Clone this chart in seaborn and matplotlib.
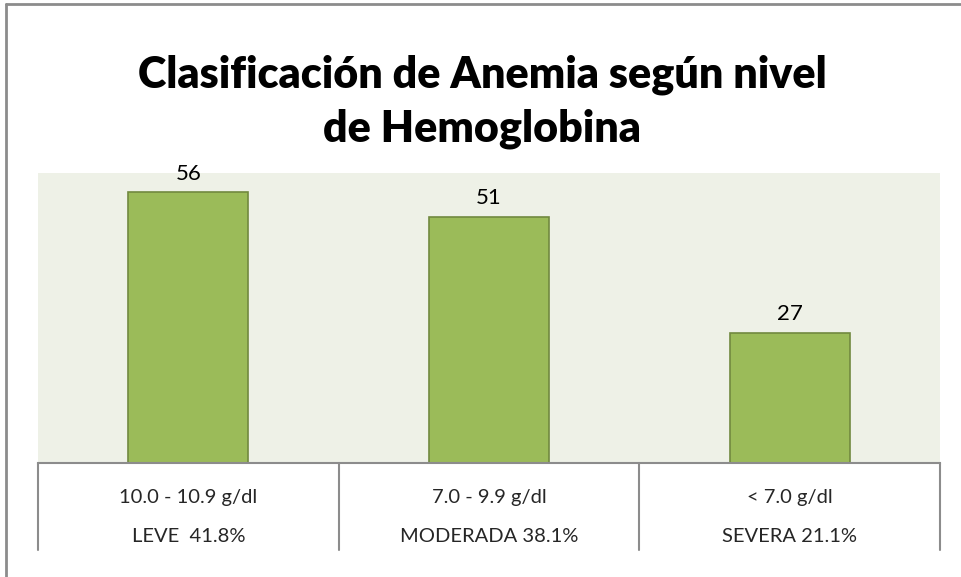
import matplotlib
matplotlib.use('Agg')
import matplotlib.pyplot as plt
from matplotlib.lines import Line2D
import seaborn as sns
import pandas as pd

# Data
categorias = ['10.0 - 10.9 g/dl', '7.0 - 9.9 g/dl', '< 7.0 g/dl']
niveles = ['LEVE  41.8%', 'MODERADA 38.1%', 'SEVERA 21.1%']
casos = [56, 51, 27]

df = pd.DataFrame({'categoria': categorias, 'casos': casos})

sns.set_style('white')
plt.rcParams['font.family'] = ['Lato', 'DejaVu Sans']

W, H = 961, 577
fig = plt.figure(figsize=(W / 100, H / 100), dpi=100)

# plot area in pixel coords: x 38..940, y 173..463
left, right, top, bottom = 38, 940, 173, 463
ax = fig.add_axes([left / W, 1 - bottom / H, (right - left) / W, (bottom - top) / H])
ax.set_facecolor('#EEF1E7')

sns.barplot(data=df, x='categoria', y='casos', color='#9BBB59', width=0.4,
            edgecolor='#71893F', linewidth=1.2, saturation=1, ax=ax)

ax.set_ylim(0, 60)
ax.set_xlim(-0.5, 2.5)
ax.set_xlabel('')
ax.set_ylabel('')
ax.set_xticks([])
ax.set_yticks([])
for s in ['top', 'right', 'left']:
    ax.spines[s].set_visible(False)
ax.spines['bottom'].set_color('#8C8C8C')
ax.spines['bottom'].set_linewidth(1.5)

# value labels
for i, v in enumerate(casos):
    ax.annotate(str(v), (i, v), xytext=(0, 6), textcoords='offset points',
                ha='center', va='bottom', fontsize=16, color='#000000')

# data table below the axis
tr = ax.get_xaxis_transform()
tabla_h = (550 - bottom) / (bottom - top)
for xb in [-0.5, 0.5, 1.5, 2.5]:
    ax.plot([xb, xb], [0, -tabla_h], transform=tr, color='#8C8C8C', lw=1.5,
            clip_on=False)
fila1 = -(497 - bottom) / (bottom - top)
fila2 = -(536 - bottom) / (bottom - top)
for i in range(len(categorias)):
    ax.text(i, fila1, categorias[i], transform=tr, ha='center', va='center',
            fontsize=14.5)
    ax.text(i, fila2, niveles[i], transform=tr, ha='center', va='center',
            fontsize=14.5)

# chart border (left and top)
fig.add_artist(Line2D([6 / W, 6 / W], [0, 1 - 4 / H], color='#8C8C8C', lw=2))
fig.add_artist(Line2D([6 / W, 1], [1 - 4 / H, 1 - 4 / H], color='#8C8C8C', lw=2))

fig.text(482 / W, 1 - 102 / H, 'Clasificación de Anemia según nivel\nde Hemoglobina',
         ha='center', va='center', fontsize=31, fontweight='heavy',
         color='black', linespacing=1.4)

fig.savefig('out.png', dpi=100)
